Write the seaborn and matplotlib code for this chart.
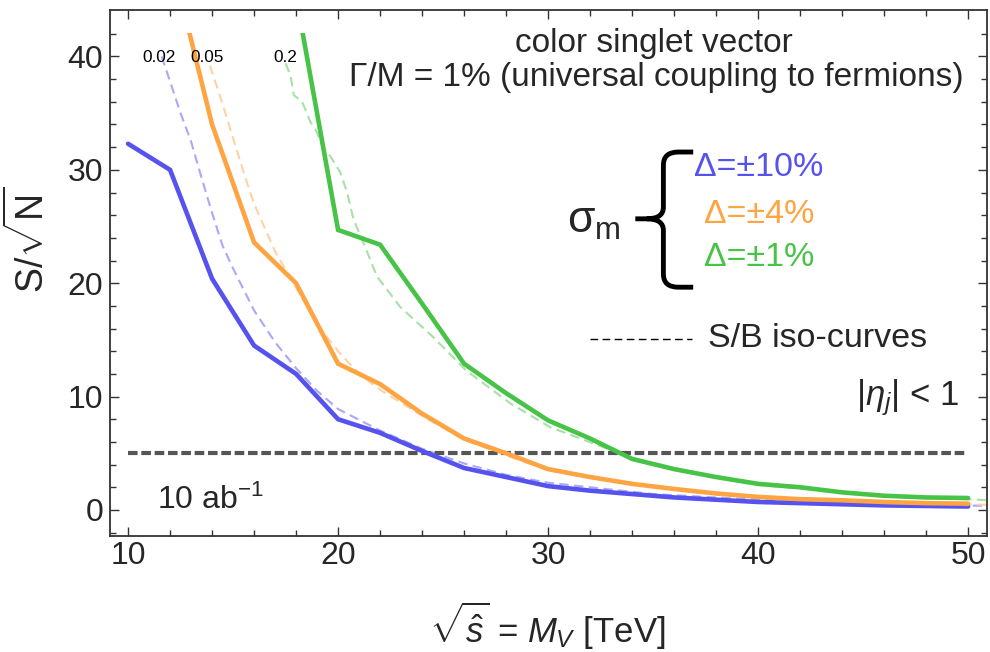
import numpy as np
import pandas as pd
import matplotlib
matplotlib.use("Agg")
import matplotlib.pyplot as plt
import seaborn as sns
from matplotlib.patches import Rectangle, PathPatch
from matplotlib.path import Path

# ---------------- data ----------------
mass_blue = [10, 12, 14, 16, 18, 20, 22, 24, 26, 28, 30, 32, 34, 36, 38, 40, 42, 44, 46, 48, 50]
sig_blue = [32.3, 30.0, 20.4, 14.5, 12.0, 8.0, 6.8, 5.2, 3.7, 2.9, 2.1, 1.7, 1.4, 1.1, 0.9, 0.7, 0.6, 0.5, 0.4, 0.35, 0.3]

mass_orange = [12, 14, 16, 18, 20, 22, 24, 26, 28, 30, 32, 34, 36, 38, 40, 42, 44, 46, 48, 50]
sig_orange = [49.0, 34.0, 23.6, 20.0, 12.9, 11.1, 8.5, 6.3, 5.0, 3.6, 2.9, 2.3, 1.85, 1.45, 1.15, 0.95, 0.85, 0.7, 0.6, 0.55]

mass_green = [18, 20, 22, 24, 26, 28, 30, 32, 34, 36, 38, 40, 42, 44, 46, 48, 50]
sig_green = [45.3, 24.7, 23.4, 18.2, 12.9, 10.3, 7.9, 6.3, 4.5, 3.6, 2.9, 2.3, 2.0, 1.55, 1.25, 1.1, 1.05]

# S/B iso-curves
iso002_x = [11.6, 12.0, 12.5, 13.0, 13.5, 14.0, 14.5, 15.0, 16.0, 17.0, 18.0, 19.0, 20.0, 22.0, 24.0, 26.0, 28.0, 30.0, 35.0, 40.0, 45.0, 51.0]
iso002_y = [40.0, 37.8, 35.0, 32.5, 29.3, 26.2, 23.3, 21.3, 17.6, 14.8, 12.5, 10.5, 8.9, 7.0, 5.4, 4.1, 3.1, 2.4, 1.4, 0.9, 0.6, 0.35]

iso005_x = [13.9, 14.5, 15.0, 15.5, 16.0, 17.0, 18.0, 19.0, 20.0, 21.0, 22.0, 24.0, 26.0, 28.0, 30.0, 35.0, 40.0, 45.0, 51.0]
iso005_y = [39.2, 35.8, 32.8, 29.8, 27.0, 22.8, 19.6, 16.4, 14.0, 12.0, 10.6, 8.3, 6.2, 4.8, 3.5, 2.0, 1.1, 0.75, 0.45]

iso02_x = [17.5, 17.74, 17.89, 18.29, 18.69, 19.0, 19.24, 19.63, 20.1, 20.43, 20.74, 21.2, 21.85, 22.96, 24.5, 26.1, 28.2, 30.1, 32.1, 34.0, 37.0, 40.0, 45.0, 51.0]
iso02_y = [39.4, 38.3, 36.6, 36.0, 34.2, 33.3, 32.1, 31.2, 29.8, 28.0, 25.6, 23.6, 20.6, 17.9, 15.3, 12.3, 9.4, 7.3, 5.9, 4.6, 3.2, 2.2, 1.4, 0.85]

iso_labels = ["0.02", "0.05", "0.2"]
iso_label_x = [11.48, 13.76, 17.48]
iso_label_y = [39.9, 39.9, 39.9]

threshold_x = [10, 50]
threshold_y = [5, 5]

delta_labels = ["Δ=±10%", "Δ=±4%", "Δ=±1%"]

# ---------------- style ----------------
sns.set_style("ticks")
plt.rcParams['font.family'] = ['Liberation Sans', 'DejaVu Sans']
plt.rcParams['mathtext.fontset'] = 'custom'
plt.rcParams['mathtext.rm'] = 'Liberation Sans'
plt.rcParams['mathtext.it'] = 'Liberation Sans:italic'
plt.rcParams['mathtext.bf'] = 'Liberation Sans:bold'

BLUE = "#5552ee"
ORANGE = "#ffa442"
GREEN = "#47c447"
BLUE_L = "#aaa8fa"
ORANGE_L = "#ffd2a6"
GREEN_L = "#a6e2a6"

fig = plt.figure(figsize=(9.9, 6.52), dpi=100)
ax = fig.add_axes([110 / 990, 1 - 536 / 652, 877 / 990, 526 / 652])

XMIN, XMAX = 9.14, 50.9
YMIN, YMAX = -2.3, 44.1
YCLIP = 42.1

def frame(x, y):
    return pd.DataFrame({"x": x, "y": y})

# dashed iso-curves
for xs, ys, col in [(iso002_x, iso002_y, BLUE_L), (iso005_x, iso005_y, ORANGE_L), (iso02_x, iso02_y, GREEN_L)]:
    n0 = len(ax.lines)
    sns.lineplot(data=frame(xs, ys), x="x", y="y", ax=ax, color=col, lw=1.5, sort=False,
                 estimator=None)
    for ln in ax.lines[n0:]:
        ln.set_dashes((4.5, 2.6))

# threshold line
n0 = len(ax.lines)
sns.lineplot(data=frame(threshold_x, threshold_y), x="x", y="y", ax=ax, color="#555555", lw=3.0,
             estimator=None)
for ln in ax.lines[n0:]:
    ln.set_dashes((2.3, 0.9))

# solid curves
clip = Rectangle((XMIN, YMIN), XMAX - XMIN, YCLIP - YMIN, transform=ax.transData)
for xs, ys, col in [(mass_blue, sig_blue, BLUE), (mass_orange, sig_orange, ORANGE), (mass_green, sig_green, GREEN)]:
    n0 = len(ax.lines)
    sns.lineplot(data=frame(xs, ys), x="x", y="y", ax=ax, color=col, lw=3.3, estimator=None)
    for ln in ax.lines[n0:]:
        ln.set_clip_path(clip)
        ln.set_solid_joinstyle("miter")

ax.set_xlim(XMIN, XMAX)
ax.set_ylim(YMIN, YMAX)

# iso labels
for lab, lx, ly in zip(iso_labels, iso_label_x, iso_label_y):
    ax.text(lx, ly, lab, fontsize=12.4, ha="center", va="center", color="black")

# ticks
ax.set_xticks([10, 20, 30, 40, 50])
ax.set_xticks(np.arange(12, 50, 2), minor=True)
ax.set_yticks([0, 10, 20, 30, 40])
ax.set_yticks(np.arange(-2, 44, 2), minor=True)
ax.tick_params(which="both", direction="in", top=True, right=True, color="#333333", width=1.0)
ax.tick_params(which="major", length=6.5, labelsize=23)
ax.tick_params(axis="x", which="major", pad=3.5)
ax.tick_params(axis="y", which="major", pad=5)
ax.tick_params(which="minor", length=4)
for sp in ax.spines.values():
    sp.set_visible(True)
    sp.set_linewidth(1.3)
    sp.set_color("#333333")

ax.set_xlabel(r"$\sqrt{\hat{s}}$ = $M_V$ [TeV]", fontsize=25)
ax.xaxis.set_label_coords(0.499, -0.122)
ax.set_ylabel(r"S/$\sqrt{\mathrm{N}}$", fontsize=27)
ax.yaxis.set_label_coords(-0.066, 0.563)

# annotations
ax.text(0.620, 0.937, "color singlet vector", transform=ax.transAxes, fontsize=24,
        ha="center", va="center")
ax.text(0.623, 0.871, "Γ/M = 1% (universal coupling to fermions)", transform=ax.transAxes,
        fontsize=24, ha="center", va="center")
ax.text(0.552, 0.598, r"σ$_\mathrm{m}$", transform=ax.transAxes, fontsize=32,
        ha="center", va="center")
for lab, col, yy in zip(delta_labels, [BLUE, ORANGE, GREEN], [0.700, 0.612, 0.529]):
    ax.text(0.740, yy, lab, transform=ax.transAxes, fontsize=24.5, ha="center", va="center",
            color=col)

verts = [(0.665, 0.730), (0.648, 0.730), (0.631, 0.730), (0.631, 0.705), (0.631, 0.625),
         (0.631, 0.603), (0.612, 0.603), (0.599, 0.603),
         (0.612, 0.603), (0.631, 0.603), (0.631, 0.581), (0.631, 0.498),
         (0.631, 0.473), (0.648, 0.473), (0.665, 0.473)]
codes = [Path.MOVETO, Path.LINETO, Path.CURVE3, Path.CURVE3, Path.LINETO,
         Path.CURVE3, Path.CURVE3, Path.LINETO,
         Path.MOVETO, Path.CURVE3, Path.CURVE3, Path.LINETO,
         Path.CURVE3, Path.CURVE3, Path.LINETO]
ax.add_patch(PathPatch(Path(verts, codes), transform=ax.transAxes, fill=False, lw=3.5,
                       edgecolor="black", capstyle="butt", joinstyle="round"))

ax.plot([0.547, 0.664], [0.375, 0.375], transform=ax.transAxes, color="black", lw=1.0,
        dashes=(5.5, 3.2))
ax.text(0.682, 0.375, "S/B iso-curves", transform=ax.transAxes, fontsize=24.5,
        ha="left", va="center")
ax.text(0.909, 0.264, r"$|\eta_j|$ < 1", transform=ax.transAxes, fontsize=25,
        ha="center", va="center")
ax.text(0.114, 0.068, r"10 ab$^{-1}$", transform=ax.transAxes, fontsize=23,
        ha="center", va="center")

fig.savefig("out.png", dpi=100)
